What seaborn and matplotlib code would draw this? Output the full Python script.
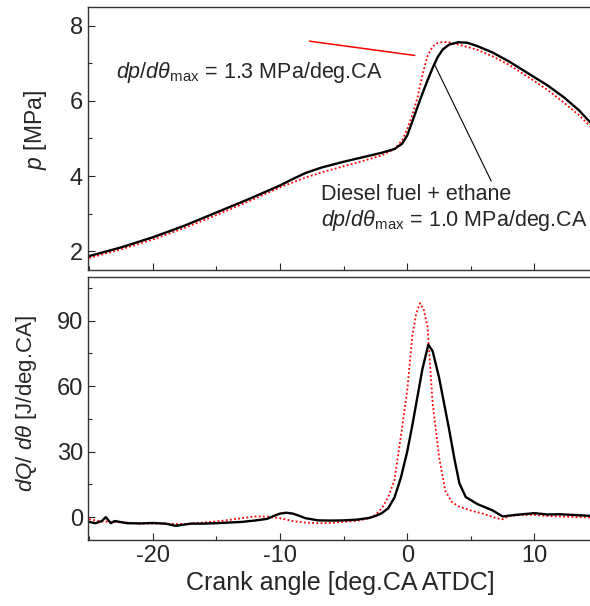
import numpy as np
import matplotlib
matplotlib.use("Agg")
import matplotlib.pyplot as plt
from matplotlib.ticker import MultipleLocator
import seaborn as sns

# ---- data ----
# in-cylinder pressure, black = diesel fuel + ethane, red = reference
ang_p = [-25, -22.5, -20, -17.5, -15, -12.5, -10, -9, -8, -6.7, -5, -3.5, -2, -1,
         -0.4, 0, 0.4, 0.8, 1.2, 1.6, 2.0, 2.4, 2.8, 3.3, 4.0, 4.7, 5.5, 6.7, 8,
         9.9, 11, 12.3, 13.5, 14.6]
p_black = [1.87, 2.1, 2.37, 2.68, 3.03, 3.38, 3.75, 3.92, 4.08, 4.23, 4.38, 4.5,
           4.62, 4.72, 4.86, 5.08, 5.45, 5.83, 6.2, 6.55, 6.88, 7.17, 7.37, 7.5,
           7.56, 7.55, 7.46, 7.29, 7.05, 6.65, 6.42, 6.1, 5.75, 5.35]
p_red = [1.82, 2.05, 2.31, 2.62, 2.96, 3.32, 3.7, 3.83, 3.96, 4.1, 4.26, 4.4,
         4.55, 4.72, 4.95, 5.25, 5.62, 6.08, 6.7, 7.2, 7.45, 7.54, 7.57, 7.56,
         7.5, 7.44, 7.36, 7.19, 6.96, 6.55, 6.3, 5.96, 5.62, 5.25]

# heat release rate
ang_q_black = [-25, -24.5, -24, -23.7, -23.3, -23, -22.5, -22, -21, -20, -19,
               -18.2, -17, -16, -15, -14, -13, -12, -11, -10.5, -10, -9.5, -9,
               -8.5, -8, -7, -6, -5, -4, -3, -2.5, -2, -1.5, -1, -0.5, 0, 0.4,
               0.8, 1.2, 1.66, 2.0, 2.5, 3.0, 3.3, 3.7, 4.1, 4.6, 5.5, 6.7, 7.5,
               8.5, 10, 11, 12, 13, 14.6]
q_black = [-2.2, -2.8, -1.8, 0.0, -2.8, -1.8, -2.3, -2.8, -2.9, -2.7, -3.0,
           -4.0, -3.0, -3.0, -2.8, -2.5, -2.2, -1.6, -0.8, 0.5, 1.6, 2.0, 1.6,
           0.6, -0.5, -1.5, -1.6, -1.5, -1.2, -0.4, 0.5, 1.8, 4.0, 9.0, 18.0,
           30.0, 42.0, 55.0, 68.0, 79.0, 76.0, 64.0, 49.0, 40.0, 27.0, 15.5,
           9.2, 6.0, 3.1, 0.3, 1.0, 1.8, 1.2, 1.3, 1.0, 0.5]
ang_q_red = [-25, -24, -23, -22, -21, -20, -19, -18, -17, -16, -15, -14, -13,
             -12, -11, -10, -9, -8, -7, -6, -5, -4, -3, -2.5, -2, -1.5, -1,
             -0.5, 0, 0.4, 0.7, 1.0, 1.3, 1.6, 2.0, 2.5, 3.0, 3.5, 4, 5, 6, 7,
             7.5, 8, 9, 10, 11, 12, 13, 14.6]
q_red = [-1.0, -2.0, -2.3, -2.5, -3.0, -3.0, -3.0, -3.2, -3.0, -2.5, -2.0, -1.3,
         -0.5, 0.3, 0.2, -0.5, -1.8, -2.5, -2.8, -2.7, -2.2, -1.8, -0.5, 1.0,
         4.0, 9.0, 17.0, 37.0, 58.0, 83.0, 93.0, 98.0, 95.0, 87.0, 52.0, 27.6,
         12.0, 7.0, 5.0, 3.0, 1.5, -0.5, -1.0, 0.5, 1.0, 1.0, 0.5, 0.3, 0.0,
         -0.2]

# ---- style ----
sns.set_style("ticks")
plt.rcParams["font.family"] = ["Liberation Sans", "DejaVu Sans"]
plt.rcParams["mathtext.fontset"] = "custom"
plt.rcParams["mathtext.rm"] = "Liberation Sans"
plt.rcParams["mathtext.it"] = "Liberation Sans:italic"
plt.rcParams["mathtext.bf"] = "Liberation Sans:bold"
plt.rcParams["axes.unicode_minus"] = False

fig = plt.figure(figsize=(5.9, 6.06), dpi=100)
ax1 = fig.add_axes([0.149, 0.5545, 0.856, 0.434])
ax2 = fig.add_axes([0.149, 0.1089, 0.856, 0.434])

dots = (0, (1, 1.3))

# pressure
sns.lineplot(x=ang_p, y=p_red, ax=ax1, color="red", linestyle=dots, linewidth=1.3)
sns.lineplot(x=ang_p, y=p_black, ax=ax1, color="black", linewidth=1.7)

# heat release
sns.lineplot(x=ang_q_red, y=q_red, ax=ax2, color="red", linestyle=dots, linewidth=1.3)
sns.lineplot(x=ang_q_black, y=q_black, ax=ax2, color="black", linewidth=1.7)

for ax in (ax1, ax2):
    ax.set_xlim(-25.1, 14.6)
    ax.xaxis.set_major_locator(MultipleLocator(10))
    ax.xaxis.set_minor_locator(MultipleLocator(5))
    ax.tick_params(which="both", direction="in", labelsize=17, width=0.8)
    ax.tick_params(which="major", length=5)
    ax.tick_params(which="minor", length=3)
    for s in ax.spines.values():
        s.set_linewidth(1.0)
        s.set_color("#333333")

ax1.set_ylim(1.5, 8.5)
ax1.yaxis.set_major_locator(MultipleLocator(2))
ax1.yaxis.set_minor_locator(MultipleLocator(1))
ax1.tick_params(labelbottom=False)
ax1.set_xlabel("")
ax1.set_ylabel(r"$p$ [MPa]", fontsize=16.5)
ax1.yaxis.set_label_coords(-0.078, 0.53)

ax2.set_ylim(-10.5, 110)
ax2.yaxis.set_major_locator(MultipleLocator(30))
ax2.yaxis.set_minor_locator(MultipleLocator(15))
ax2.set_xlabel("Crank angle [deg.CA ATDC]", fontsize=18, labelpad=3)
ax2.set_ylabel(r"$dQ$/ $d\theta$ [J/deg.CA]", fontsize=16)
ax2.yaxis.set_label_coords(-0.096, 0.52)

# annotations
ax1.text(-22.9, 6.6, r"$dp/d\theta_{\rm max}$ = 1.3 MPa/deg.CA", fontsize=15.5,
         va="baseline")
ax1.annotate("", xy=(0.8, 7.2), xytext=(-7.9, 7.6),
             arrowprops=dict(arrowstyle="-", color="red", lw=1.1))
ax1.annotate("", xy=(2.1, 7.0), xytext=(6.7, 3.8),
             arrowprops=dict(arrowstyle="-", color="black", lw=0.8))
ax1.text(-6.8, 3.35, "Diesel fuel + ethane", fontsize=15.5, va="baseline")
ax1.text(-6.8, 2.66, r"$dp/d\theta_{\rm max}$ = 1.0 MPa/deg.CA", fontsize=15.5,
         va="baseline")

fig.savefig("out.png", dpi=100)
